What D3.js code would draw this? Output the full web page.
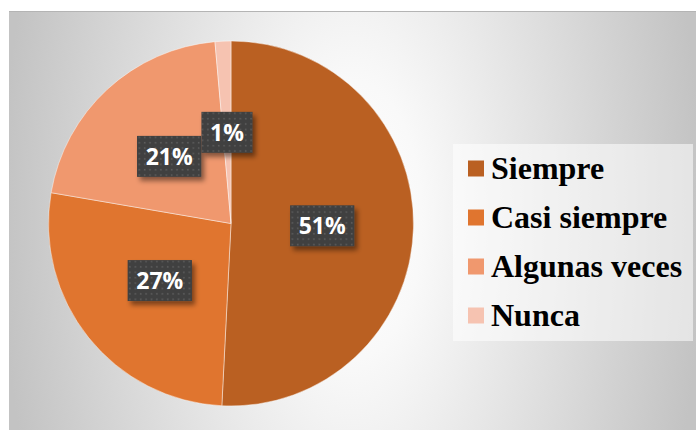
<!DOCTYPE html>
<html>
<head>
<meta charset="utf-8">
<script src="https://cdn.jsdelivr.net/npm/d3@7"></script>
<style>
  body { margin: 0; background: #fff; }
</style>
</head>
<body>
<div class="pie-chart"></div>
<script>
// data
const categories = ['Siempre', 'Casi siempre', 'Algunas veces', 'Nunca'];
const values = [50.8, 26.9, 20.9, 1.4];
const colors = ['#BA6022', '#E0752F', '#F0986E', '#F6C3B1'];

const width = 696;
const height = 430;

const svg = d3.select('.pie-chart')
    .append('svg')
    .attr('width', width)
    .attr('height', height);

const defs = svg.append('defs');

// background: bright in the middle, grey towards left and right
const grad = defs.append('radialGradient')
    .attr('id', 'bg')
    .attr('gradientUnits', 'userSpaceOnUse')
    .attr('cx', 352).attr('cy', 220).attr('r', 350)
    .attr('gradientTransform', 'translate(0,220) scale(1,2) translate(0,-220)');
grad.append('stop').attr('offset', '0%').attr('stop-color', '#ffffff');
grad.append('stop').attr('offset', '20%').attr('stop-color', '#f9f9f9');
grad.append('stop').attr('offset', '100%').attr('stop-color', '#c3c3c3');

// dotted fill for the label boxes
const pat = defs.append('pattern')
    .attr('id', 'dots')
    .attr('patternUnits', 'userSpaceOnUse')
    .attr('width', 5.4).attr('height', 5.4);
pat.append('rect').attr('width', 5.4).attr('height', 5.4).attr('fill', '#404040');
pat.append('rect').attr('x', 1.7).attr('y', 1.7).attr('width', 1.6).attr('height', 1.6).attr('fill', '#5c5c5c');

const shadow = defs.append('filter')
    .attr('id', 'shadow')
    .attr('x', '-30%').attr('y', '-30%').attr('width', '160%').attr('height', '160%');
shadow.append('feDropShadow')
    .attr('dx', 3).attr('dy', 4).attr('stdDeviation', 2.5)
    .attr('flood-color', '#000').attr('flood-opacity', 0.45);

// chart area
svg.append('rect')
    .attr('x', 9).attr('y', 11)
    .attr('width', width - 9).attr('height', height - 11)
    .attr('fill', 'url(#bg)');
svg.append('line')
    .attr('x1', 9).attr('x2', width)
    .attr('y1', 11.5).attr('y2', 11.5)
    .attr('stroke', '#b4b4b4');

// pie
const cx = 231;
const cy = 223.5;
const radius = 182.5;

const pie = d3.pie().sort(null).value(d => d.value);
const arcs = pie(categories.map((c, i) => ({ name: c, value: values[i], color: colors[i] })));
const arc = d3.arc().innerRadius(0).outerRadius(radius);
const labelArc = d3.arc().innerRadius(radius * 0.5).outerRadius(radius * 0.5);

const g = svg.append('g').attr('transform', `translate(${cx},${cy})`);

g.selectAll('.slice')
    .data(arcs)
    .enter()
    .append('path')
    .attr('class', 'slice')
    .attr('d', arc)
    .attr('fill', d => d.data.color)
    .attr('stroke', 'rgba(255,255,255,0.55)')
    .attr('stroke-width', 0.8);

// data labels
const labels = g.selectAll('.label')
    .data(arcs)
    .enter()
    .append('g')
    .attr('class', 'label')
    .attr('transform', d => `translate(${labelArc.centroid(d)})`);

labels.append('rect')
    .attr('fill', 'url(#dots)')
    .attr('filter', 'url(#shadow)');

labels.append('text')
    .text(d => Math.round(d.data.value) + '%')
    .attr('font-family', '"Open Sans", sans-serif')
    .attr('font-weight', 'bold')
    .attr('font-size', '23px')
    .attr('fill', 'white')
    .attr('text-anchor', 'middle')
    .attr('dy', '0.36em');

labels.each(function () {
    const t = d3.select(this).select('text').node().getBBox();
    const w = t.width + 17;
    const h = 41;
    d3.select(this).select('rect')
        .attr('x', -w / 2).attr('y', -h / 2)
        .attr('width', w).attr('height', h);
});

// legend
const legend = svg.append('g');
legend.append('rect')
    .attr('x', 453).attr('y', 144)
    .attr('width', 240).attr('height', 197)
    .attr('fill', 'rgba(255,255,255,0.55)');

const rowY = d3.scalePoint().domain(categories).range([168.5, 315.5]);

legend.selectAll('.swatch')
    .data(arcs)
    .enter()
    .append('rect')
    .attr('class', 'swatch')
    .attr('x', 468)
    .attr('y', d => rowY(d.data.name) - 8)
    .attr('width', 16).attr('height', 16)
    .attr('fill', d => d.data.color);

legend.selectAll('.legend-label')
    .data(arcs)
    .enter()
    .append('text')
    .attr('class', 'legend-label')
    .text(d => d.data.name)
    .attr('x', 491)
    .attr('y', d => rowY(d.data.name) + 10.5)
    .attr('font-family', '"Liberation Serif", "Times New Roman", serif')
    .attr('font-weight', 'bold')
    .attr('font-size', '32px')
    .attr('fill', '#000');
</script>
</body>
</html>
